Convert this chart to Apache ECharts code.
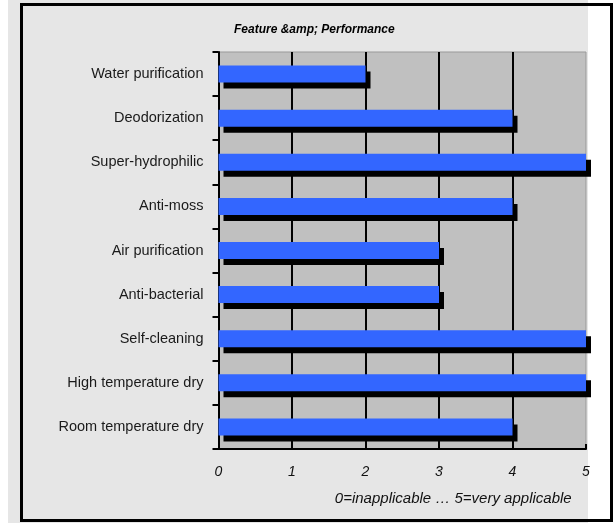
<!DOCTYPE html>
<html>
<head>
<meta charset="utf-8">
<script src="https://cdn.jsdelivr.net/npm/echarts@6/dist/echarts.min.js"></script>
<style>
  html, body { margin: 0; padding: 0; background: #ffffff; }
  #chart { width: 616px; height: 523px; }
</style>
</head>
<body>
<div id="chart"></div>
<script>
// Features, listed top to bottom
const features = [
  'Water purification',
  'Deodorization',
  'Super-hydrophilic',
  'Anti-moss',
  'Air purification',
  'Anti-bacterial',
  'Self-cleaning',
  'High temperature dry',
  'Room temperature dry'
];

// Applicability score per feature (0 = inapplicable, 5 = very applicable)
const scores = [2, 4, 5, 4, 3, 3, 5, 5, 4];

const scaleTicks = [0, 1, 2, 3, 4, 5];
const chartTitle = 'Feature &amp; Performance';
const scaleNote = '0=inapplicable \u2026 5=very applicable';

const chart = echarts.init(document.getElementById('chart'), null, { renderer: 'canvas' });

chart.setOption({
  animation: false,
  backgroundColor: '#ffffff',
  graphic: [
    {
      type: 'rect', z: -10, silent: true,
      shape: { x: 8, y: 0, width: 580, height: 523 },
      style: { fill: '#e6e6e6' }
    },
    {
      type: 'rect', z: 100, silent: true,
      shape: { x: 21.5, y: 4.5, width: 590, height: 516 },
      style: { fill: 'none', stroke: '#000000', lineWidth: 3 }
    }
  ],
  title: {
    text: chartTitle,
    left: 234,
    top: 24,
    padding: 0,
    textStyle: {
      fontFamily: 'Liberation Sans, Arial, sans-serif',
      fontSize: 12,
      fontWeight: 'bold',
      fontStyle: 'italic',
      color: '#000000'
    }
  },
  grid: {
    left: 218.5,
    right: 30,
    top: 52,
    bottom: 74,
    show: true,
    backgroundColor: '#c0c0c0',
    borderColor: '#999999',
    borderWidth: 1
  },
  xAxis: {
    type: 'value',
    min: 0,
    max: 5,
    interval: 1,
    data: scaleTicks,
    name: scaleNote,
    nameLocation: 'middle',
    nameGap: 42,
    nameTextStyle: {
      fontFamily: 'Liberation Sans, Arial, sans-serif',
      fontSize: 15,
      fontStyle: 'italic',
      color: '#111111',
      padding: [0, 0, 0, 102]
    },
    axisLine: { show: true, lineStyle: { color: '#000000', width: 2 } },
    axisTick: { show: true, inside: true, length: 5, lineStyle: { color: '#000000', width: 2 } },
    axisLabel: {
      margin: 16,
      fontFamily: 'Liberation Sans, Arial, sans-serif',
      fontSize: 14,
      fontStyle: 'italic',
      color: '#111111'
    },
    splitLine: {
      show: true,
      showMinLine: false,
      showMaxLine: false,
      lineStyle: { color: '#000000', width: 2 }
    }
  },
  yAxis: {
    type: 'category',
    inverse: true,
    data: features,
    axisLine: { show: true, lineStyle: { color: '#000000', width: 2 } },
    axisTick: { show: true, inside: false, length: 6, lineStyle: { color: '#000000', width: 2 } },
    axisLabel: {
      margin: 15,
      fontFamily: 'Liberation Sans, Arial, sans-serif',
      fontSize: 14.5,
      color: '#1a1a1a'
    },
    splitLine: { show: false }
  },
  series: [
    {
      type: 'bar',
      data: scores,
      barWidth: 17,
      itemStyle: {
        color: '#3366ff',
        shadowColor: '#000000',
        shadowBlur: 0,
        shadowOffsetX: 5,
        shadowOffsetY: 6
      },
      emphasis: { disabled: true }
    }
  ]
});
</script>
</body>
</html>
